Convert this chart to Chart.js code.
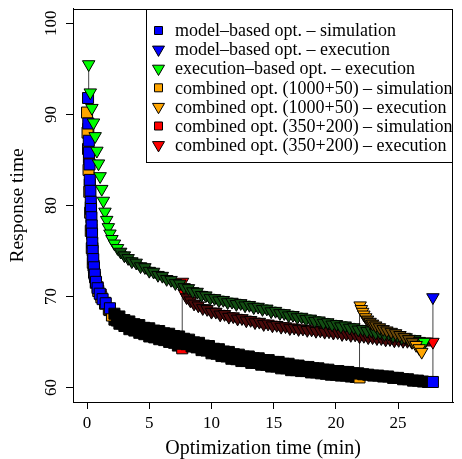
<!DOCTYPE html>
<html>
<head>
<meta charset="utf-8">
<script src="https://cdn.jsdelivr.net/npm/chart.js@4.4.0/dist/chart.umd.min.js"></script>
<style>
  html, body { margin: 0; padding: 0; background: #fff; }
</style>
</head>
<body>
<canvas id="chart" width="462" height="459"></canvas>
<script>
// Response time vs. optimization time

const xTicks = [0, 5, 10, 15, 20, 25];
const yTicks = [60, 70, 80, 90, 100];

const seriesNames = [
  'model–based opt. – simulation',
  'model–based opt. – execution',
  'execution–based opt. – execution',
  'combined opt. (1000+50) – simulation',
  'combined opt. (1000+50) – execution',
  'combined opt. (350+200) – simulation',
  'combined opt. (350+200) – execution'
];

// [minutes, response time]
const modelSim = [
  [0.08, 91.8], [0.1, 89.0], [0.14, 87.1], [0.16, 85.8], [0.2, 84.5], [0.22, 82.8], [0.27, 81.6],
  [0.3, 80.4], [0.32, 79.6], [0.35, 78.7], [0.37, 77.8], [0.4, 76.9], [0.42, 75.9], [0.45, 75.0],
  [0.5, 74.1], [0.55, 73.2], [0.62, 72.4], [0.72, 71.6], [0.85, 70.9], [1.02, 70.3], [1.25, 69.7],
  [1.5, 69.25], [1.84, 68.7], [2.2, 68.1], [2.6, 67.8], [3.0, 67.4], [3.4, 67.25], [3.8, 66.95],
  [4.2, 66.85], [4.6, 66.55], [5.0, 66.5], [5.4, 66.25], [5.8, 66.2], [6.2, 65.95], [6.6, 65.9],
  [7.0, 65.65], [7.4, 65.6], [7.8, 65.35], [8.2, 65.25], [8.6, 64.95], [9.0, 64.9], [9.4, 64.6],
  [9.8, 64.55], [10.2, 64.25], [10.6, 64.2], [11.0, 63.95], [11.4, 63.9], [11.8, 63.65], [12.2, 63.6],
  [12.6, 63.4], [13.0, 63.4], [13.4, 63.2], [13.8, 63.2], [14.2, 63.0], [14.6, 63.0], [15.0, 62.8],
  [15.4, 62.8], [15.8, 62.6], [16.2, 62.6], [16.6, 62.4], [17.0, 62.4], [17.4, 62.25], [17.8, 62.25],
  [18.2, 62.1], [18.6, 62.1], [19.0, 61.95], [19.4, 61.95], [19.8, 61.8], [20.2, 61.8], [20.6, 61.7],
  [21.0, 61.7], [21.4, 61.55], [21.8, 61.55], [22.2, 61.45], [22.6, 61.4], [23.0, 61.3], [23.4, 61.3],
  [23.8, 61.2], [24.2, 61.2], [24.6, 61.05], [25.0, 61.05], [25.4, 60.9], [25.8, 60.9], [26.2, 60.75],
  [26.6, 60.75], [27.0, 60.65], [27.4, 60.6], [27.8, 60.6]
];

const modelExec = [[27.8, 69.9]];

const execBasedExec = [
  [0.13, 95.5], [0.26, 92.4], [0.39, 90.7], [0.52, 89.1], [0.65, 87.6], [0.79, 86.0], [0.92, 84.6],
  [1.05, 83.2], [1.18, 81.8], [1.31, 80.5], [1.44, 79.3], [1.58, 78.4], [1.71, 77.6], [1.84, 76.9],
  [2.0, 76.3], [2.2, 75.8], [2.45, 75.3], [2.7, 74.9], [3.0, 74.5], [3.3, 74.2], [3.6, 73.85],
  [3.95, 73.7], [4.3, 73.3], [4.65, 73.2], [5.0, 72.8], [5.35, 72.7], [5.7, 72.35], [6.05, 72.25],
  [6.4, 71.9], [6.75, 71.8], [7.1, 71.45], [7.45, 71.4], [7.8, 71.0], [8.15, 70.9], [8.5, 70.55],
  [8.85, 70.5], [9.2, 70.15], [9.55, 70.1], [9.9, 69.8], [10.25, 69.8], [10.6, 69.55], [10.95, 69.6],
  [11.3, 69.35], [11.65, 69.4], [12.0, 69.15], [12.35, 69.25], [12.7, 69.0], [13.05, 69.05], [13.4, 68.8],
  [13.75, 68.85], [14.1, 68.6], [14.45, 68.65], [14.8, 68.35], [15.15, 68.4], [15.5, 68.15], [15.85, 68.15],
  [16.2, 67.9], [16.55, 67.95], [16.9, 67.7], [17.25, 67.75], [17.6, 67.5], [17.95, 67.55], [18.3, 67.3],
  [18.65, 67.35], [19.0, 67.1], [19.35, 67.15], [19.7, 66.9], [20.05, 66.95], [20.4, 66.7], [20.75, 66.8],
  [21.1, 66.55], [21.45, 66.6], [21.8, 66.35], [22.15, 66.4], [22.5, 66.2], [22.85, 66.25], [23.2, 66.0],
  [23.55, 66.05], [23.9, 65.85], [24.25, 65.9], [24.6, 65.65], [24.95, 65.7], [25.3, 65.45], [25.65, 65.5],
  [26.0, 65.25], [26.35, 65.3], [26.7, 65.1], [27.1, 65.0]
];

const comb1000Sim = [
  [0.0, 90.2], [0.04, 88.0], [0.08, 86.2], [0.12, 83.9], [0.18, 81.5], [0.25, 79.2], [0.3, 77.2],
  [0.38, 75.3], [0.46, 73.7], [0.56, 72.6], [0.7, 71.5], [0.9, 70.6], [1.15, 69.9], [1.45, 69.2],
  [1.75, 68.6], [2.0, 67.9], [2.4, 67.35], [2.8, 67.05], [3.2, 66.8], [3.6, 66.55], [4.0, 66.4],
  [4.4, 66.15], [4.8, 66.05], [5.2, 65.8], [5.6, 65.7], [6.0, 65.45], [6.4, 65.35], [6.8, 65.1],
  [7.2, 65.05], [7.6, 64.8], [8.0, 64.75], [8.4, 64.5], [8.8, 64.4], [9.2, 64.1], [9.6, 64.05],
  [10.0, 63.75], [10.4, 63.7], [10.8, 63.45], [11.2, 63.4], [11.6, 63.15], [12.0, 63.1], [12.4, 62.9],
  [12.8, 62.9], [13.2, 62.7], [13.6, 62.7], [14.0, 62.5], [14.4, 62.5], [14.8, 62.3], [15.2, 62.3],
  [15.6, 62.1], [16.0, 62.1], [16.4, 61.9], [16.8, 61.9], [17.2, 61.8], [17.6, 61.8], [18.0, 61.65],
  [18.4, 61.65], [18.8, 61.55], [19.2, 61.5], [19.6, 61.4], [20.0, 61.4], [20.4, 61.3], [20.8, 61.3],
  [21.2, 61.2], [21.6, 61.15], [21.9, 61.1]
];

const comb1000Exec = [
  [21.95, 69.0], [22.05, 68.6], [22.15, 68.3], [22.25, 68.0], [22.4, 67.7], [22.55, 67.45], [22.75, 67.2],
  [22.95, 67.0], [23.2, 66.8], [23.5, 66.6], [23.8, 66.4], [24.1, 66.25], [24.45, 66.1], [24.8, 65.95],
  [25.15, 65.75], [25.5, 65.55], [25.85, 65.3], [26.15, 65.0], [26.45, 64.65], [26.7, 64.3], [26.9, 63.9]
];

const comb350Sim = [
  [0.1, 88.4], [0.15, 85.2], [0.22, 82.3], [0.3, 79.8], [0.36, 77.4], [0.43, 75.3], [0.52, 73.4],
  [0.64, 72.1], [0.85, 71.0], [1.1, 70.2], [1.45, 69.3], [1.8, 68.5], [2.2, 67.45], [2.6, 67.0],
  [3.0, 66.75], [3.4, 66.4], [3.8, 66.25], [4.2, 66.0], [4.6, 65.85], [5.0, 65.6], [5.4, 65.5],
  [5.8, 65.3], [6.2, 65.2], [6.6, 65.0], [7.0, 64.9], [7.3, 64.6], [7.65, 64.3]
];

const comb350Exec = [
  [7.67, 71.6], [7.8, 70.4], [8.0, 69.9], [8.3, 69.55], [8.6, 69.2], [8.94, 69.0], [9.3, 68.7],
  [9.65, 68.6], [10.0, 68.3], [10.35, 68.3], [10.7, 68.0], [11.05, 68.05], [11.4, 67.75], [11.75, 67.8],
  [12.1, 67.55], [12.45, 67.6], [12.8, 67.35], [13.15, 67.4], [13.5, 67.15], [13.85, 67.2], [14.2, 66.95],
  [14.55, 67.0], [14.9, 66.8], [15.25, 66.85], [15.6, 66.65], [15.95, 66.7], [16.3, 66.5], [16.65, 66.55],
  [17.0, 66.4], [17.35, 66.45], [17.7, 66.3], [18.05, 66.35], [18.4, 66.2], [18.75, 66.25], [19.1, 66.1],
  [19.45, 66.15], [19.8, 66.0], [20.15, 66.05], [20.5, 65.85], [20.85, 65.9], [21.2, 65.75], [21.55, 65.8],
  [21.9, 65.6], [22.25, 65.65], [22.6, 65.5], [22.95, 65.5], [23.3, 65.4], [23.65, 65.4], [24.0, 65.25],
  [24.35, 65.3], [24.7, 65.15], [25.05, 65.2], [25.4, 65.1], [25.75, 65.1], [26.1, 65.0], [26.45, 65.0],
  [26.8, 64.95], [27.15, 65.0], [27.8, 65.0]
];

// vertical links from a simulated value to the executed one
const switchLinks = [
  [[0.13, 91.8], [0.13, 95.5]],
  [[7.65, 64.3], [7.65, 71.6]],
  [[21.9, 61.1], [21.9, 69.0]],
  [[27.8, 60.6], [27.8, 69.9]]
];

const FONT = "'Liberation Serif', 'Times New Roman', serif";
const toXY = arr => arr.map(p => ({ x: p[0], y: p[1] }));

// many runs pile up along the flat parts, so the black marker borders merge into a dark band
function isFlat(dx, dy) {
  return Math.abs(dx) > Math.abs(dy);
}

function fillFor(color, dark) {
  return function (ctx) {
    if (ctx.type !== 'data') return color;
    const d = ctx.dataset.data;
    const i = ctx.dataIndex;
    if (i >= d.length - 1) return color;
    const sx = ctx.chart.scales.x, sy = ctx.chart.scales.y;
    const dx = sx.getPixelForValue(d[i + 1].x) - sx.getPixelForValue(d[i].x);
    const dy = sy.getPixelForValue(d[i + 1].y) - sy.getPixelForValue(d[i].y);
    return isFlat(dx, dy) ? dark : color;
  };
}

function markers(idx, pts, shape, color, dark, band, order) {
  const r = shape === 'sq' ? 7.8 : 7.2;
  return {
    label: seriesNames[idx],
    data: toXY(pts),
    shape: shape,
    color: color,
    order: order,
    pointStyle: shape === 'sq' ? 'rect' : 'triangle',
    pointRotation: shape === 'sq' ? 0 : 180,
    pointRadius: r,
    pointHoverRadius: r,
    pointBackgroundColor: fillFor(color, dark),
    pointBorderColor: '#000',
    pointBorderWidth: 1,
    showLine: band > 0,
    borderWidth: band,
    borderColor: dark,
    borderJoinStyle: 'round',
    segment: {
      borderColor: c => isFlat(c.p1.x - c.p0.x, c.p1.y - c.p0.y) ? dark : 'rgba(0,0,0,0)'
    }
  };
}

const datasets = [
  markers(0, modelSim, 'sq', '#0000ff', '#000000', 11, 4),
  markers(1, modelExec, 'tri', '#0000ff', '#000000', 0, 0),
  markers(2, execBasedExec, 'tri', '#00ff00', '#124e12', 9, 2),
  markers(3, comb1000Sim, 'sq', '#ffa500', '#000000', 11, 5),
  markers(4, comb1000Exec, 'tri', '#ffa500', '#6a4808', 7, 1),
  markers(5, comb350Sim, 'sq', '#ff0000', '#000000', 11, 6),
  markers(6, comb350Exec, 'tri', '#ff0000', '#4a0a0a', 9, 3)
];

switchLinks.forEach(link => {
  datasets.push({
    data: toXY(link),
    showLine: true,
    borderColor: '#444',
    borderWidth: 1,
    pointRadius: 0,
    order: 7
  });
});

const framePlugin = {
  id: 'frame',
  afterDraw(chart) {
    const ctx = chart.ctx;
    const a = chart.chartArea;
    ctx.save();
    ctx.strokeStyle = '#000';
    ctx.lineWidth = 1;
    ctx.strokeRect(Math.round(a.left) + 0.5, Math.round(a.top) + 0.5,
      Math.round(a.right - a.left) - 1, Math.round(a.bottom - a.top));

    // y tick labels, turned like the axis
    ctx.fillStyle = '#000';
    ctx.font = '17px ' + FONT;
    ctx.textAlign = 'center';
    ctx.textBaseline = 'middle';
    yTicks.forEach(v => {
      const py = chart.scales.y.getPixelForValue(v);
      ctx.save();
      ctx.translate(52, py);
      ctx.rotate(-Math.PI / 2);
      ctx.fillText(String(v), 0, 0);
      ctx.restore();
    });

    // legend box in the top right corner
    const bx = 146.5, by = Math.round(a.top) + 0.5, bw = Math.round(a.right) - 147, bh = 153;
    ctx.fillStyle = '#fff';
    ctx.fillRect(bx, by, bw, bh);
    ctx.strokeRect(bx, by, bw, bh);
    ctx.font = '18px ' + FONT;
    ctx.textAlign = 'left';
    const items = chart.data.datasets.filter(d => d.shape);
    items.forEach((d, i) => {
      const cy = by + 21 + i * 19.1;
      const cx = 158.5;
      ctx.fillStyle = d.color;
      ctx.strokeStyle = '#000';
      ctx.beginPath();
      if (d.shape === 'sq') {
        ctx.rect(cx - 4, cy - 4, 8, 8);
      } else {
        ctx.moveTo(cx - 6, cy - 3.5);
        ctx.lineTo(cx + 6, cy - 3.5);
        ctx.lineTo(cx, cy + 6.8);
        ctx.closePath();
      }
      ctx.fill();
      ctx.stroke();
      ctx.fillStyle = '#000';
      ctx.fillText(d.label, 175, cy + 1);
    });
    ctx.restore();
  }
};

new Chart(document.getElementById('chart'), {
  type: 'scatter',
  data: { datasets: datasets },
  options: {
    responsive: false,
    animation: false,
    events: [],
    layout: { padding: { left: 0, right: 2, top: 7, bottom: 0 } },
    plugins: {
      legend: { display: false },
      tooltip: { enabled: false }
    },
    scales: {
      x: {
        type: 'linear',
        min: -1.13,
        max: 29.43,
        afterBuildTicks: s => { s.ticks = xTicks.map(v => ({ value: v })); },
        afterFit: s => { s.height = 57; },
        grid: { drawOnChartArea: false, color: '#000', tickLength: 7 },
        border: { color: '#000' },
        ticks: { font: { family: FONT, size: 17 }, color: '#000', padding: 4, maxRotation: 0, autoSkip: false },
        title: {
          display: true,
          text: 'Optimization time (min)',
          font: { family: FONT, size: 20, lineHeight: 1 },
          color: '#000',
          padding: 0
        }
      },
      y: {
        type: 'linear',
        min: 58.4,
        max: 101.6,
        afterBuildTicks: s => { s.ticks = yTicks.map(v => ({ value: v })); },
        afterFit: s => { s.width = 73; },
        grid: { drawOnChartArea: false, color: '#000', tickLength: 7 },
        border: { color: '#000' },
        ticks: { display: false },
        title: {
          display: true,
          text: 'Response time',
          font: { family: FONT, size: 19.5, lineHeight: 1 },
          color: '#000',
          padding: { top: 8, bottom: 0 }
        }
      }
    }
  },
  plugins: [framePlugin]
});
</script>
</body>
</html>
